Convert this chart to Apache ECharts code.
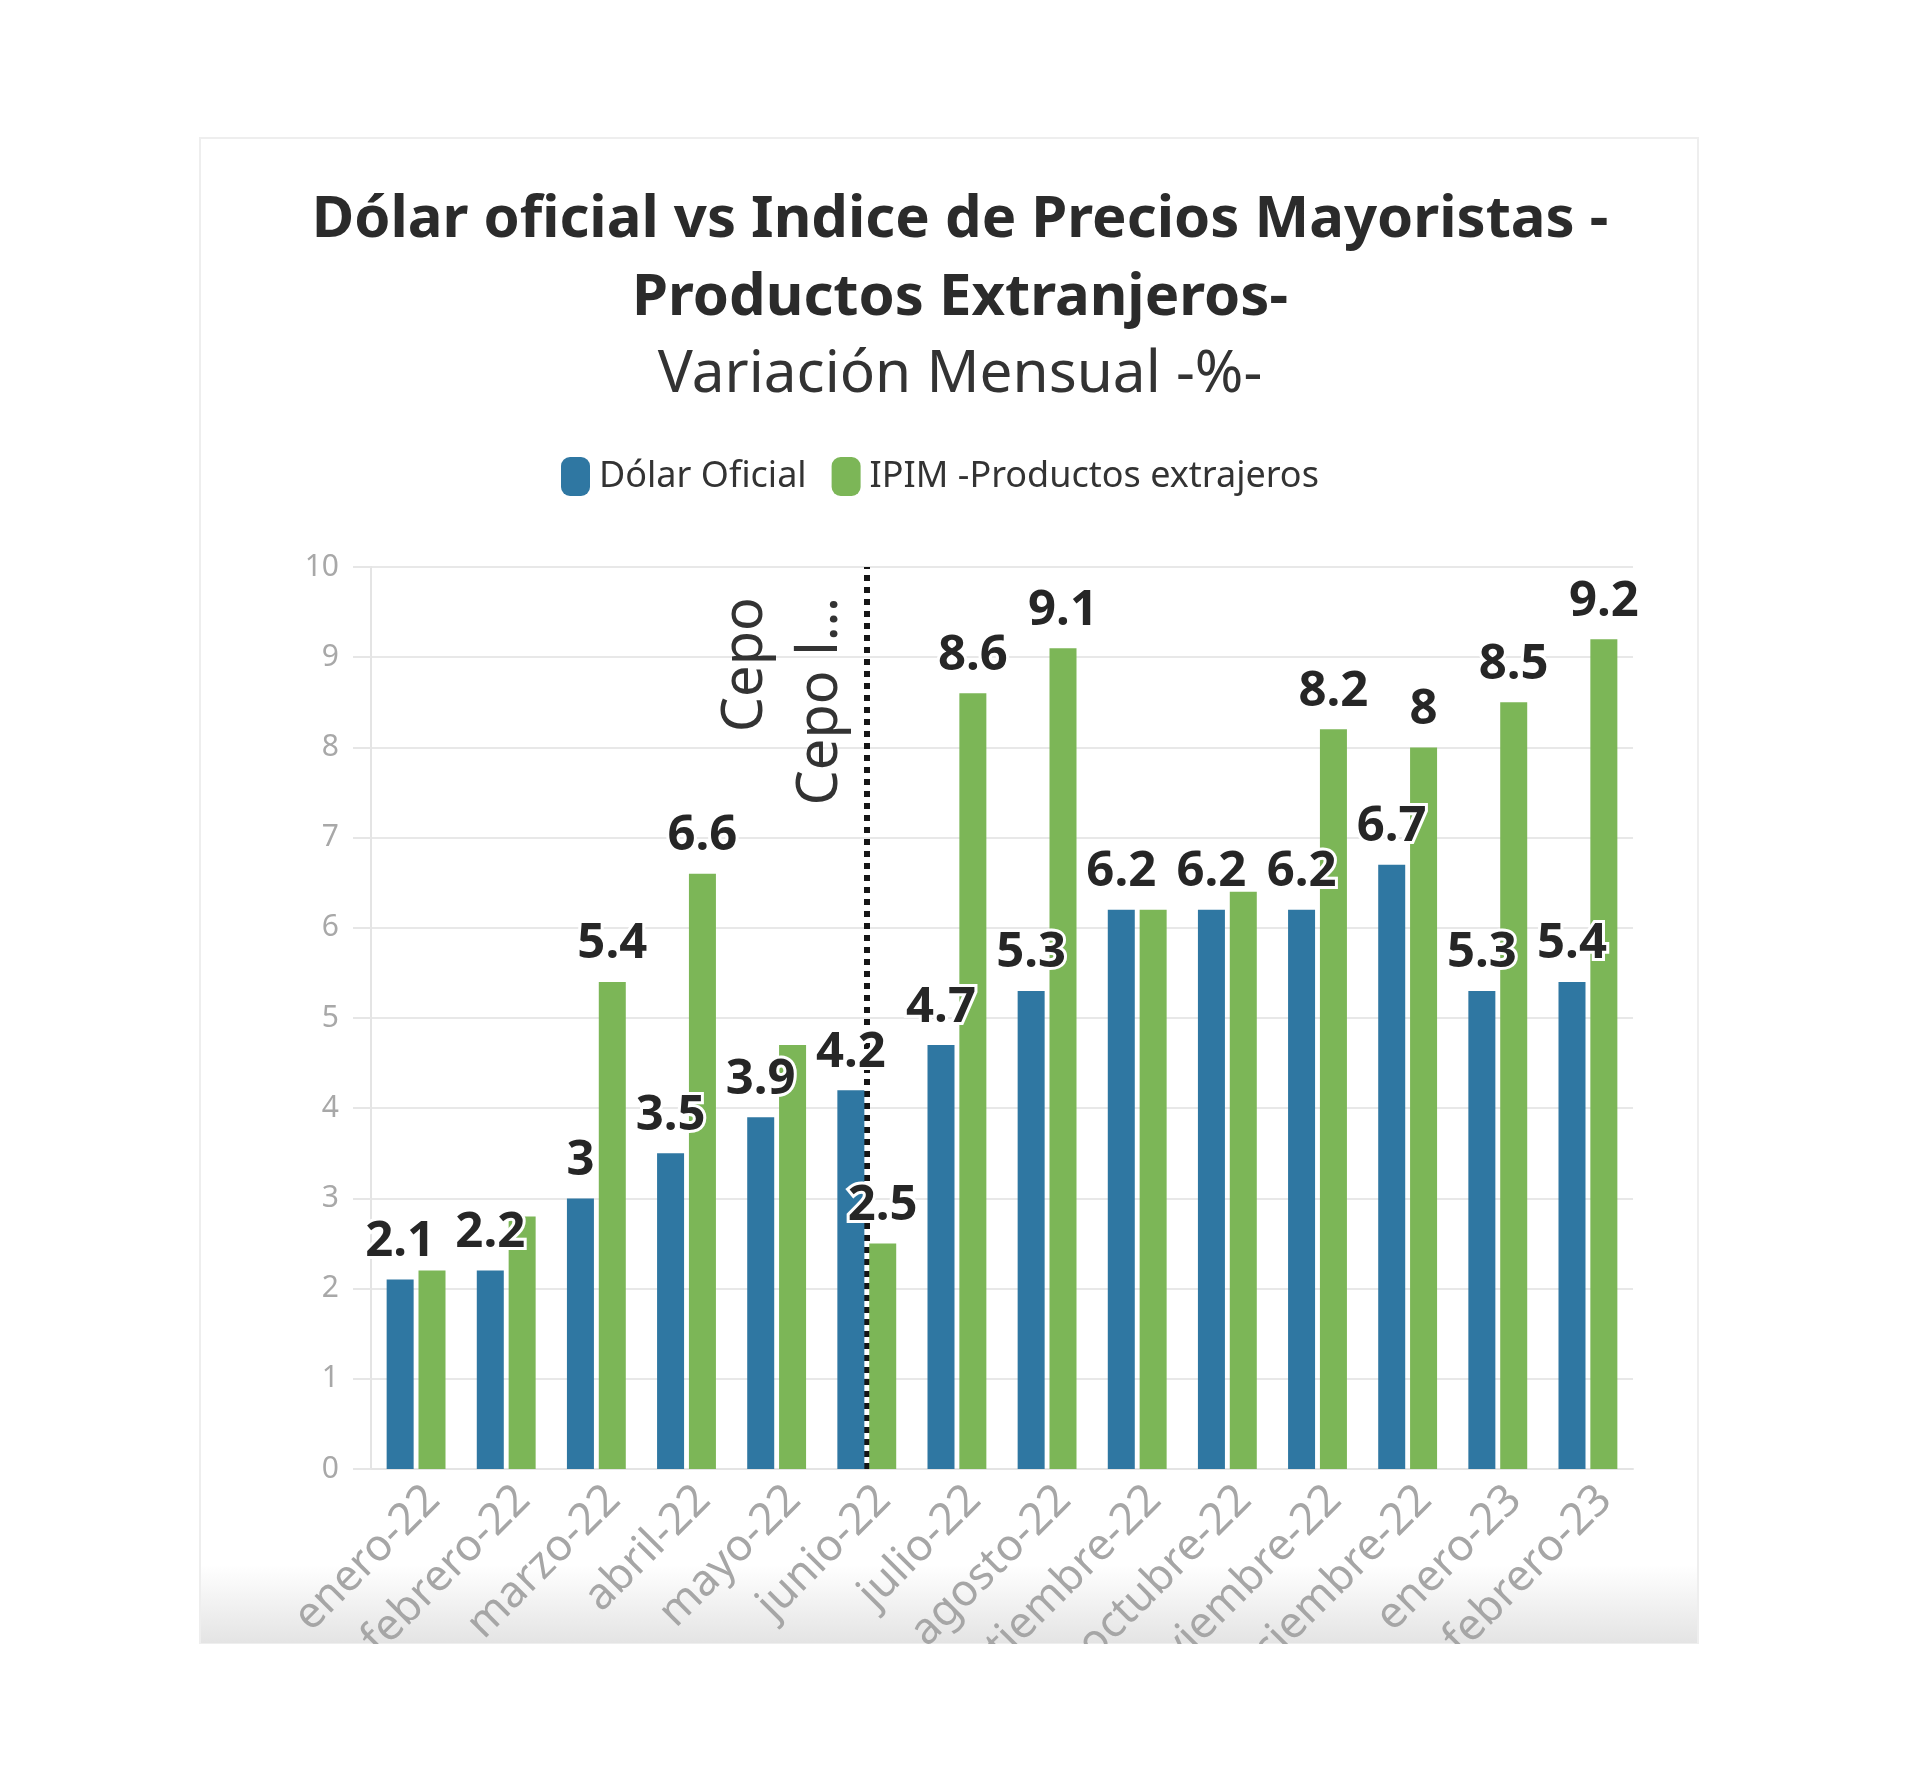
<!DOCTYPE html>
<html>
<head>
<meta charset="utf-8">
<script src="https://cdn.jsdelivr.net/npm/echarts@6.0.0/dist/echarts.min.js"></script>
<style>
html,body{margin:0;padding:0;background:#ffffff;}
#chart{width:1920px;height:1782px;}
</style>
</head>
<body>
<div id="chart"></div>
<script>
// ---- data ----
const categories = ['enero-22','febrero-22','marzo-22','abril-22','mayo-22','junio-22','julio-22','agosto-22','septiembre-22','octubre-22','noviembre-22','diciembre-22','enero-23','febrero-23'];
const dolarOficial = [2.1, 2.2, 3, 3.5, 3.9, 4.2, 4.7, 5.3, 6.2, 6.2, 6.2, 6.7, 5.3, 5.4];
const ipimExtranjeros = [2.2, 2.8, 5.4, 6.6, 4.7, 2.5, 8.6, 9.1, 6.2, 6.4, 8.2, 8, 8.5, 9.2];
const ipimLabelHidden = [0, 1, 4, 8, 9];
const seriesNames = ['Dólar Oficial', 'IPIM -Productos extrajeros'];
const yMin = 0, yMax = 10, yInterval = 1;
const annotationMonth = 'junio-22';
const annotationLabels = ['Cepo', 'Cepo l…'];
const titleLines = ['Dólar oficial vs Indice de Precios Mayoristas -', 'Productos Extranjeros-'];
const subtitleText = 'Variación Mensual -%-';

const FONT = 'Noto Sans';
const labelStyle = {
  show: true, position: 'top', distance: 13,
  fontFamily: FONT, fontWeight: 'bold', fontSize: 49, color: '#262626',
  textBorderColor: '#ffffff', textBorderWidth: 6
};
const roundIcon = 'path://M9,0 H20 A9,9 0 0 1 29,9 V30 A9,9 0 0 1 20,39 H9 A9,9 0 0 1 0,30 V9 A9,9 0 0 1 9,0 Z';

const chart = echarts.init(document.getElementById('chart'), null, {renderer: 'canvas'});
chart.setOption({
  animation: false,
  backgroundColor: '#ffffff',
  title: [
    {
      text: titleLines.join('\n'), left: 'center', top: 181, padding: 0,
      textStyle: {fontFamily: FONT, fontWeight: 'bold', fontSize: 58, lineHeight: 78, color: '#2b2b2b'}
    },
    {
      text: subtitleText, left: 'center', top: 340, padding: 0,
      textStyle: {fontFamily: FONT, fontWeight: 'normal', fontSize: 58.5, lineHeight: 70, color: '#333333'}
    }
  ],
  legend: {
    top: 457, left: 561, padding: 0,
    itemWidth: 29, itemHeight: 39, itemGap: 25, icon: roundIcon,
    textStyle: {fontFamily: FONT, fontSize: 36, color: '#333333', padding: [0, 0, 0, 4]},
    data: seriesNames
  },
  grid: {left: 371, right: 287, top: 567, bottom: 313, containLabel: false},
  xAxis: {
    type: 'category', data: categories,
    axisLine: {lineStyle: {color: '#e4e4e4', width: 2}},
    axisTick: {alignWithLabel: true, length: 20, lineStyle: {color: '#e4e4e4', width: 2}},
    axisLabel: {rotate: 45, interval: 0, margin: 41, padding: [0, -24, 0, 0],
                color: '#a6a6a6', fontSize: 44, fontFamily: FONT}
  },
  yAxis: {
    type: 'value', min: yMin, max: yMax, interval: yInterval,
    axisLine: {show: true, lineStyle: {color: '#e4e4e4', width: 2}},
    axisTick: {show: true, length: 18, lineStyle: {color: '#e6e6e6', width: 2}},
    splitLine: {lineStyle: {color: '#e8e8e8', width: 2}},
    axisLabel: {margin: 32, color: '#a8a8a8', fontSize: 30, fontFamily: FONT}
  },
  graphic: [
    {type: 'rect', z: -10, silent: true, shape: {x: 200, y: 138, width: 1498, height: 1505},
     style: {fill: '#ffffff', stroke: '#eeeeee', lineWidth: 2}},
    {type: 'rect', z: -9, silent: true, shape: {x: 201, y: 1565, width: 1496, height: 78},
     style: {fill: new echarts.graphic.LinearGradient(0, 0, 0, 1, [
       {offset: 0, color: 'rgba(228,228,228,0)'}, {offset: 1, color: 'rgba(228,228,228,1)'}
     ])}},
    {type: 'rect', z: 100, silent: true, shape: {x: 0, y: 1644, width: 1920, height: 140},
     style: {fill: '#ffffff'}}
  ],
  series: [
    {
      name: seriesNames[0], type: 'bar', data: dolarOficial,
      barWidth: 27, barGap: '18%',
      itemStyle: {color: '#2f77a2'},
      label: labelStyle
    },
    {
      name: seriesNames[1], type: 'bar',
      data: ipimExtranjeros.map((v, i) => ({value: v, label: {show: ipimLabelHidden.indexOf(i) < 0}})),
      barWidth: 27, barGap: '18%',
      itemStyle: {color: '#7cb657'},
      label: labelStyle
    },
    {
      name: 'annotation', type: 'line', data: [], silent: true,
      markLine: {
        silent: true, z: 1, symbol: ['none', 'none'],
        lineStyle: {color: '#151515', width: 6, type: [6, 6]},
        label: {
          show: true, position: 'insideEndTop', distance: [30, 8],
          formatter: annotationLabels.join('\n'),
          fontFamily: FONT, fontSize: 56, lineHeight: 75, color: '#333333'
        },
        emphasis: {disabled: true},
        data: [{xAxis: annotationMonth}]
      }
    }
  ]
});
</script>
</body>
</html>
